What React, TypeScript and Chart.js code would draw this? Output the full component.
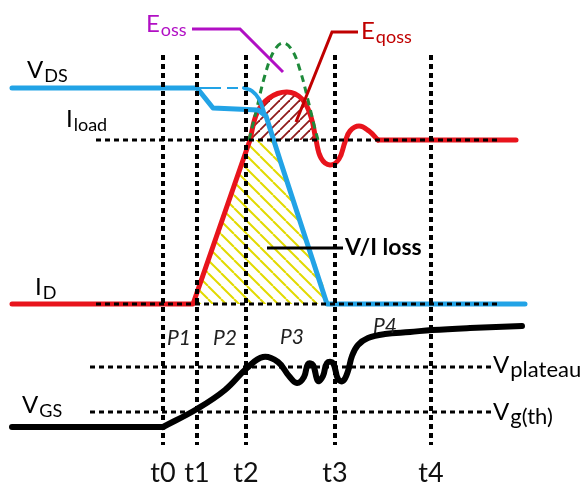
import { useEffect, useRef } from "react";
import { Chart, registerables } from "chart.js";

Chart.register(...registerables);

type P = [number, number];

// time markers (horizontal axis units)
const T_MARKS = [163, 197, 246, 335, 431];
const T_LABELS = ["t0", "t1", "t2", "t3", "t4"];
const T_GUIDE_SPAN: P = [55, 445];

// levels (vertical axis units, top = 0)
const LEVEL_ILOAD = 140;
const LEVEL_ZERO = 304;
const LEVEL_PLATEAU = 367;
const LEVEL_TH = 412;
const LEVEL_GUIDE_SPAN_TOP: P = [96, 500];
const LEVEL_GUIDE_SPAN_BOTTOM: P = [90, 492];

// waveforms
const VDS_MAIN: P[] = [[12, 88], [197, 88], [213, 108], [258, 110], [266, 116], [280, 160], [327, 304], [525, 304]];
const VDS_DASH: P[] = [[197, 88], [238, 88]];
const VDS_BEND: P[] = [[244, 88], [252, 91], [259, 99], [264, 112]];
const ID_RAMP: P[] = [[12, 304], [193, 304], [250, 140]];
const ID_RING: P[] = [[250, 140], [257, 113], [269, 98], [287, 92], [302, 99], [311, 117], [316, 140], [321, 158], [330, 165], [339, 159], [345, 142], [350, 131], [359, 126], [369, 131], [378, 140]];
const ID_TAIL: P[] = [[378, 140], [516, 140]];
const EOSS_CURVE: P[] = [[249, 140], [256, 112], [265, 75], [274, 51], [283, 43], [292, 50], [300, 70], [308, 100], [314, 125], [318, 140]];
const LOSS_AREA: P[] = [[193, 304], [250, 140], [273, 140], [330, 304]];
const VGS_FLAT: P[] = [[12, 427], [163, 427]];
const VGS_RISE: P[] = [[163, 427], [197, 409], [225, 390], [247, 368], [263, 357], [278, 362], [289, 376], [297, 383], [304, 377], [308, 364], [313, 365], [318, 381], [323, 376], [327, 363], [333, 363], [338, 379], [343, 381], [348, 371], [352, 356], [358, 345], [368, 338], [385, 334], [410, 332], [432, 330], [470, 328], [522, 326]];

// pointer lines for annotations
const EOSS_POINTER: P[] = [[192, 29], [240, 29], [283, 72]];
const EQOSS_POINTER: P[] = [[358, 32], [332, 32], [296, 122]];
const LOSS_POINTER: P[] = [[267, 248], [343, 248]];

// text
const SUB_LABELS = [
  { main: "V", sub: "DS", x: 27, y: 78, color: "#000", sub_size: 18 },
  { main: "I", sub: "load", x: 66, y: 127, color: "#000", sub_size: 18 },
  { main: "I", sub: "D", x: 35, y: 295, color: "#000", sub_size: 18 },
  { main: "V", sub: "GS", x: 22, y: 413, color: "#000", sub_size: 18 },
  { main: "V", sub: "plateau", x: 493, y: 373, color: "#000", sub_size: 22 },
  { main: "V", sub: "g(th)", x: 493, y: 420, color: "#000", sub_size: 22 },
  { main: "E", sub: "oss", x: 146, y: 32, color: "#b10fc4", sub_size: 18 },
  { main: "E", sub: "qoss", x: 361, y: 39, color: "#c00000", sub_size: 18 },
];
const PHASE_LABELS = ["P1", "P2", "P3", "P4"];
const PHASE_POS: P[] = [[179, 338], [225, 338], [292, 337], [385, 326]];
const LOSS_TEXT = "V/I loss";
const LOSS_TEXT_POS: P = [345, 248];

const FONT = 'Lato, "Open Sans", sans-serif';
const RED = "#e8141c";
const BLUE = "#22a3e6";
const GREEN = "#1e8a3a";

const pts = (a: P[]) => a.map(([x, y]) => ({ x, y }));

function hatch(color: string, size: number, dir: 1 | -1, lw: number) {
  const c = document.createElement("canvas");
  c.width = size;
  c.height = size;
  const g = c.getContext("2d")!;
  g.strokeStyle = color;
  g.lineWidth = lw;
  for (let k = -1; k <= 1; k++) {
    g.beginPath();
    if (dir === 1) {
      g.moveTo(k * size, size);
      g.lineTo(k * size + size, 0);
    } else {
      g.moveTo(k * size, 0);
      g.lineTo(k * size + size, size);
    }
    g.stroke();
  }
  return g.createPattern(c, "repeat")!;
}

const textPlugin = {
  id: "diagramText",
  afterDatasetsDraw(chart: any) {
    const { ctx } = chart;
    const sx = chart.scales.x;
    const sy = chart.scales.y;
    ctx.save();
    ctx.textBaseline = "alphabetic";
    ctx.textAlign = "left";
    for (const l of SUB_LABELS) {
      const px = sx.getPixelForValue(l.x);
      const py = sy.getPixelForValue(l.y);
      ctx.fillStyle = l.color;
      ctx.font = `24px ${FONT}`;
      ctx.fillText(l.main, px, py);
      const w = ctx.measureText(l.main).width;
      ctx.font = `${l.sub_size}px ${FONT}`;
      ctx.fillText(l.sub, px + w + 1, py + 4);
    }
    ctx.fillStyle = "#222";
    ctx.font = `italic 21px ${FONT}`;
    ctx.textAlign = "center";
    ctx.textBaseline = "middle";
    PHASE_LABELS.forEach((t, i) => {
      ctx.fillText(t, sx.getPixelForValue(PHASE_POS[i][0]), sy.getPixelForValue(PHASE_POS[i][1]));
    });
    ctx.fillStyle = "#111";
    ctx.font = `27px ${FONT}`;
    ctx.textBaseline = "alphabetic";
    T_LABELS.forEach((t, i) => {
      ctx.fillText(t, sx.getPixelForValue(T_MARKS[i]), sy.getPixelForValue(482));
    });
    ctx.fillStyle = "#000";
    ctx.font = `bold 23px ${FONT}`;
    ctx.textAlign = "left";
    ctx.textBaseline = "middle";
    ctx.fillText(LOSS_TEXT, sx.getPixelForValue(LOSS_TEXT_POS[0]), sy.getPixelForValue(LOSS_TEXT_POS[1]));
    ctx.restore();
  },
};

export default function App() {
  const ref = useRef<HTMLCanvasElement>(null);
  useEffect(() => {
    const yellow = hatch("#e2da00", 13, -1, 2);
    const brown = hatch("#8e1a1a", 10, 1, 1.8);
    const line = (data: P[], color: string, width: number, extra: any = {}) => ({
      data: pts(data),
      borderColor: color,
      borderWidth: width,
      pointRadius: 0,
      tension: 0,
      fill: false,
      borderCapStyle: "round",
      borderJoinStyle: "round",
      ...extra,
    });
    const dotted = (data: P[], width: number) =>
      line(data, "#000", width, { borderDash: [5, 4], borderCapStyle: "butt" });

    const datasets: any[] = [];
    // guides (top)
    T_MARKS.forEach((t) => datasets.push(dotted([[t, T_GUIDE_SPAN[0]], [t, T_GUIDE_SPAN[1]]], 4)));
    datasets.push(dotted([[LEVEL_GUIDE_SPAN_TOP[0], LEVEL_ILOAD], [LEVEL_GUIDE_SPAN_TOP[1], LEVEL_ILOAD]], 3));
    datasets.push(dotted([[LEVEL_GUIDE_SPAN_TOP[0], LEVEL_ZERO], [LEVEL_GUIDE_SPAN_TOP[1], LEVEL_ZERO]], 3));
    datasets.push(dotted([[LEVEL_GUIDE_SPAN_BOTTOM[0], LEVEL_PLATEAU], [LEVEL_GUIDE_SPAN_BOTTOM[1], LEVEL_PLATEAU]], 3));
    datasets.push(dotted([[LEVEL_GUIDE_SPAN_BOTTOM[0], LEVEL_TH], [LEVEL_GUIDE_SPAN_BOTTOM[1], LEVEL_TH]], 3));
    // pointers
    datasets.push(line(EOSS_POINTER, "#b10fc4", 3, { borderJoinStyle: "miter", borderCapStyle: "butt" }));
    datasets.push(line(EQOSS_POINTER, "#c00000", 3, { borderJoinStyle: "miter", borderCapStyle: "butt" }));
    datasets.push(line(LOSS_POINTER, "#000", 3, { borderCapStyle: "butt" }));
    // waveforms
    datasets.push(line(VDS_MAIN, BLUE, 5));
    datasets.push(line(VDS_BEND, BLUE, 4, { tension: 0.4 }));
    datasets.push(line(VDS_DASH, BLUE, 2, { borderDash: [24, 6], borderCapStyle: "butt" }));
    datasets.push(line(EOSS_CURVE, GREEN, 3, { tension: 0.4, borderDash: [7, 5], borderCapStyle: "butt" }));
    datasets.push(line(ID_RAMP, RED, 5));
    datasets.push(line(ID_RING, RED, 5, { tension: 0.4 }));
    datasets.push(line(ID_TAIL, RED, 5));
    datasets.push(line(VGS_FLAT, "#000", 6));
    datasets.push(line(VGS_RISE, "#000", 6, { tension: 0.4 }));
    // hatched areas
    datasets.push(line(ID_RING.slice(0, 7), "rgba(0,0,0,0)", 0, { tension: 0.4, fill: { value: LEVEL_ILOAD }, backgroundColor: brown }));
    datasets.push(line(LOSS_AREA, "rgba(0,0,0,0)", 0, { fill: { value: LEVEL_ZERO }, backgroundColor: yellow }));

    const chart = new Chart(ref.current!, {
      type: "line",
      data: { datasets },
      options: {
        animation: false,
        responsive: true,
        maintainAspectRatio: false,
        events: [],
        layout: { padding: 0 },
        plugins: {
          legend: { display: false },
          tooltip: { enabled: false },
          filler: { drawTime: "beforeDatasetsDraw" } as any,
        },
        scales: {
          x: { type: "linear", display: false, min: 0, max: 582 },
          y: { type: "linear", display: false, min: 0, max: 489, reverse: true },
        },
      },
      plugins: [textPlugin],
    });
    return () => chart.destroy();
  }, []);
  return (
    <div style={{ position: "fixed", left: 0, top: 0, width: 582, height: 489, background: "#fff" }}>
      <canvas ref={ref} />
    </div>
  );
}
